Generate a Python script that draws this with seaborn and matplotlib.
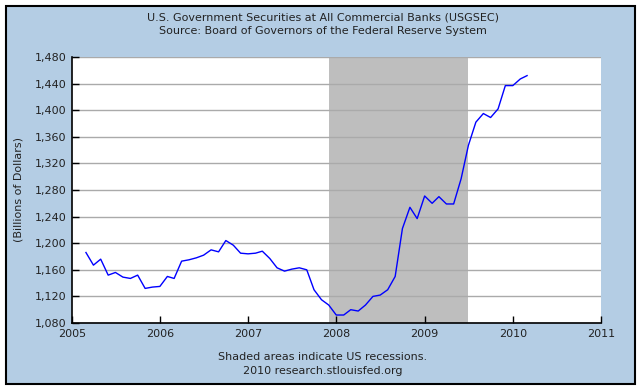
import numpy as np
import pandas as pd
import seaborn as sns
import matplotlib.pyplot as plt
import matplotlib.dates as mdates
from matplotlib.patches import Rectangle
from matplotlib.ticker import FuncFormatter

# Monthly values, Mar 2005 - Mar 2010 (billions of dollars)
start_month = '2005-03-01'
values = [
    1186, 1167, 1176, 1152, 1156, 1149, 1147, 1152, 1132, 1134,
    1135, 1150, 1147, 1173, 1175, 1178, 1182, 1190, 1187, 1204, 1197, 1185,
    1184, 1185, 1188, 1177, 1163, 1158, 1161, 1163, 1160, 1130, 1115, 1107,
    1092, 1092, 1100, 1098, 1107, 1120, 1122, 1130, 1150, 1222, 1254, 1237,
    1271, 1260, 1270, 1259, 1259, 1297, 1347, 1382, 1395, 1389, 1402, 1437,
    1437, 1447, 1452,
]
recession_start = '2007-12-01'
recession_end = '2009-06-30'
year_ticks = [2005, 2006, 2007, 2008, 2009, 2010, 2011]
y_ticks = [1080, 1120, 1160, 1200, 1240, 1280, 1320, 1360, 1400, 1440, 1480]

df = pd.DataFrame({
    'date': pd.date_range(start_month, periods=len(values), freq='MS'),
    'value': values,
})

bg_blue = '#B4CDE4'
W, H = 640, 389

fig = plt.figure(figsize=(6.4, 3.89), dpi=100, facecolor='white')
# blue panel with dark frame, kept behind the axes
fig.patches.append(Rectangle((5.5 / W, 1 - 383.5 / H), 629 / W, 378 / H,
                             transform=fig.transFigure, facecolor=bg_blue,
                             edgecolor='black', linewidth=1.5, zorder=-10))

ax = fig.add_axes([71.7 / W, 1 - 323 / H, (601 - 71.7) / W, (323 - 57) / H])
ax.set_facecolor('white')

# recession shading
ax.axvspan(pd.Timestamp(recession_start), pd.Timestamp(recession_end),
           color='#BEBEBE', lw=0, zorder=1)

sns.lineplot(data=df, x='date', y='value', color='#0000FF', lw=1, ax=ax, zorder=3)

ax.set_xlim(pd.Timestamp('2005-01-01'), pd.Timestamp('2011-01-01'))
ax.set_ylim(1080, 1480)
ax.set_xticks([pd.Timestamp(f'{y}-01-01') for y in year_ticks])
ax.xaxis.set_major_formatter(mdates.DateFormatter('%Y'))
ax.set_yticks(y_ticks)
ax.yaxis.set_major_formatter(FuncFormatter(lambda v, _: f'{int(v):,}'))

ax.grid(axis='y', color='#AAAAAA', lw=1, zorder=2)
ax.grid(axis='x', visible=False)
ax.set_axisbelow(False)
for side in ['top', 'right']:
    ax.spines[side].set_visible(False)
for side in ['left', 'bottom']:
    ax.spines[side].set_color('black')
    ax.spines[side].set_linewidth(1.2)
    ax.spines[side].set_zorder(4)

ax.tick_params(axis='both', direction='in', length=5, width=1, color='black',
               labelsize=8, labelcolor='#222222', pad=4)
ax.set_xlabel('')
ax.set_ylabel('(Billions of Dollars)', fontsize=8, color='#222222', labelpad=8)

fig.text(323 / W, 1 - 18 / H, 'U.S. Government Securities at All Commercial Banks (USGSEC)',
         ha='center', va='center', fontsize=8, color='#222222')
fig.text(323 / W, 1 - 31 / H, 'Source: Board of Governors of the Federal Reserve System',
         ha='center', va='center', fontsize=8, color='#222222')
fig.text(323 / W, 1 - 357 / H, 'Shaded areas indicate US recessions.',
         ha='center', va='center', fontsize=8, color='#222222')
fig.text(323 / W, 1 - 371 / H, '2010 research.stlouisfed.org',
         ha='center', va='center', fontsize=8, color='#222222')

fig.savefig('out.png', dpi=100)
